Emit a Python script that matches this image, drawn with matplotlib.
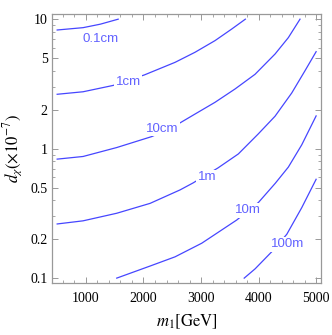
import numpy as np
import matplotlib
matplotlib.use("Agg")
import matplotlib.pyplot as plt
from matplotlib.ticker import FixedLocator, FixedFormatter

# Konturlinien (m1 in GeV, d_chi in 1e-7)
mass_01cm = [500, 950, 1250, 1560]
d_01cm = [8.25, 8.6, 9.15, 10.0]

mass_1cm = [500, 950, 1475, 2015, 2548, 2895, 3243, 3533, 3770]
d_1cm = [2.63, 2.75, 3.08, 3.71, 4.64, 5.55, 6.83, 8.39, 10.0]

mass_10cm = [500, 950, 1535, 2145, 2548, 2895, 3243, 3591, 3938, 4286, 4517, 4720]
d_10cm = [0.83, 0.87, 1.02, 1.24, 1.50, 1.85, 2.28, 2.89, 3.75, 5.38, 7.2, 10.0]

mass_1m = [500, 950, 1535, 2115, 2635, 2860, 3295, 3648, 3995, 4286, 4576, 4807, 5000]
d_1m = [0.262, 0.277, 0.317, 0.378, 0.480, 0.543, 0.710, 0.91, 1.30, 1.78, 2.69, 4.0, 5.61]

mass_10m = [1535, 2115, 2548, 3012, 3620, 4000, 4290, 4517, 4750, 5000]
d_10m = [0.1, 0.124, 0.146, 0.186, 0.281, 0.385, 0.54, 0.72, 1.07, 1.79]

mass_100m = [3750, 3940, 4230, 4490, 4750, 5000]
d_100m = [0.1, 0.118, 0.160, 0.218, 0.35, 0.58]

contour_labels = ["0.1cm", "1cm", "10cm", "1m", "10m", "100m"]

x_ticks = [1000, 2000, 3000, 4000, 5000]
y_ticks = [0.1, 0.2, 0.5, 1, 2, 5, 10]
y_tick_labels = ["0.1", "0.2", "0.5", "1", "2", "5", "10"]

plt.rcParams["mathtext.fontset"] = "stix"

fig = plt.figure(figsize=(3.32, 3.35), dpi=100)
ax = fig.add_axes([52 / 332, (335 - 283.3) / 335, 269.3 / 332, 269.3 / 335])

line_color = "#4646ff"
label_color = "#6262ff"

curves = [(mass_01cm, d_01cm), (mass_1cm, d_1cm), (mass_10cm, d_10cm),
          (mass_1m, d_1m), (mass_10m, d_10m), (mass_100m, d_100m)]
for m, d in curves:
    ax.plot(m, d, color=line_color, lw=0.9, zorder=2, solid_joinstyle="round")

# Beschriftungen der Konturen (Position in Datenkoordinaten)
label_pos = [(1256, 7.0), (1736, 3.29), (2331, 1.43), (3104, 0.601), (3813, 0.333), (4503, 0.183)]
for txt, (xm, yd) in zip(contour_labels, label_pos):
    ax.text(xm, yd, txt, color=label_color, fontsize=9.5, family="Liberation Sans",
            ha="center", va="center", zorder=3,
            bbox=dict(facecolor="white", edgecolor="none", pad=1.0))

ax.set_yscale("log")
ax.set_xlim(410, 5090)
ax.set_ylim(10 ** -1.04, 10 ** 1.04)

ax.xaxis.set_major_locator(FixedLocator(x_ticks))
ax.xaxis.set_minor_locator(FixedLocator(np.arange(600, 5001, 200)))
ax.yaxis.set_major_locator(FixedLocator(y_ticks))
ax.yaxis.set_major_formatter(FixedFormatter(y_tick_labels))
minor_y = [v * s for v in (0.1, 1) for s in (3, 4, 6, 7, 8, 9)]
ax.yaxis.set_minor_locator(FixedLocator(minor_y))
ax.yaxis.set_minor_formatter(FixedFormatter([""] * len(minor_y)))

frame = "#999999"
for sp in ax.spines.values():
    sp.set_color(frame)
    sp.set_linewidth(0.9)
ax.tick_params(which="both", direction="in", top=True, right=True, color=frame,
               labelsize=10, labelcolor="black")
ax.tick_params(which="major", length=4.5, width=0.7)
ax.tick_params(which="minor", length=2.5, width=0.6)
ax.tick_params(axis="x", pad=6)
ax.tick_params(axis="y", pad=3)
for lab in ax.get_xticklabels() + ax.get_yticklabels():
    lab.set_family("Liberation Serif")

ax.set_xlabel(r"$m_1[\mathrm{GeV}]$", fontsize=12, labelpad=6)
ax.set_ylabel(r"$d_\chi(\times 10^{-7})$", fontsize=12, labelpad=4)

fig.savefig("out.png", dpi=100)
